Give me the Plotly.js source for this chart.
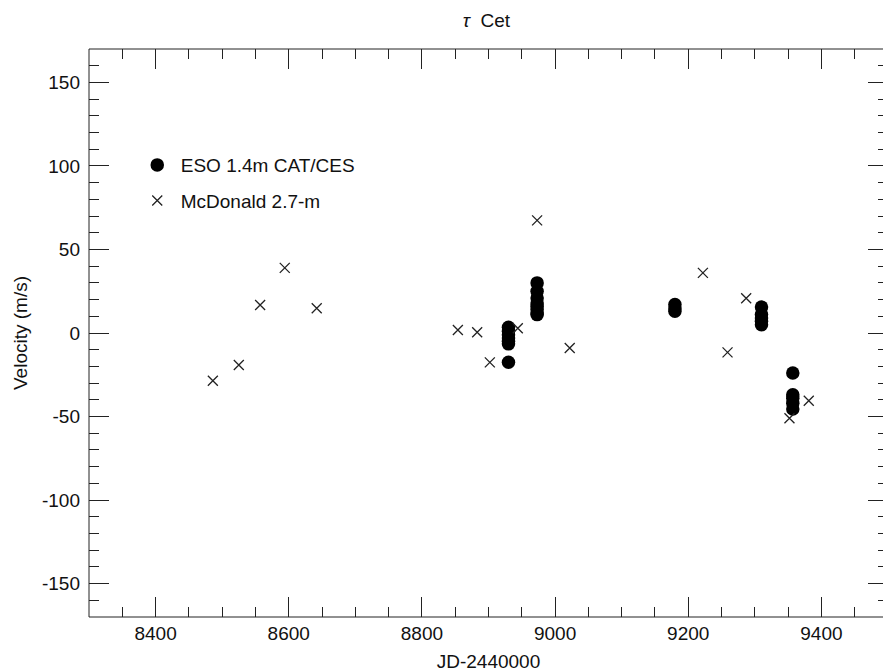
<!DOCTYPE html>
<html>
<head>
<meta charset="utf-8">
<script src="https://cdn.plot.ly/plotly-3.0.1.min.js"></script>
<style>
html,body{margin:0;padding:0;overflow:hidden;background:#fff;}
#chart{width:900px;height:672px;}
</style>
</head>
<body>
<div id="chart"></div>
<script>
// ESO 1.4m CAT/CES (filled circles)
var esoJD = [8930, 8930, 8930, 8930, 8930, 8930, 8930,
             8973, 8973, 8973, 8973, 8973, 8973, 8973, 8973,
             9180, 9180, 9180,
             9310, 9310, 9310, 9310, 9310,
             9357, 9357, 9357, 9357, 9357];
var esoVel = [3.5, 1, -1, -3, -5, -6.5, -17.5,
              30, 25, 21, 18, 16, 14, 12, 11,
              17, 15, 13,
              15.5, 11, 9, 7, 5,
              -24, -37, -39, -42, -45.5];
// McDonald 2.7-m (crosses)
var mcdJD = [8486, 8525, 8557, 8594, 8642, 8854, 8883, 8902, 8944, 8973,
             9022, 9222, 9259, 9287, 9352, 9381];
var mcdVel = [-28.6, -19.2, 16.8, 39, 14.8, 1.8, 0.4, -17.6, 2.8, 67.4,
              -9, 36, -11.6, 20.8, -51, -40.6];

var xTickVals = [8400, 8600, 8800, 9000, 9200, 9400];
var yTickVals = [-150, -100, -50, 0, 50, 100, 150];

var FONT = 'Liberation Sans, Arial, Helvetica, sans-serif';
var INK = '#222';

var traces = [
  {
    type: 'scatter', mode: 'markers', name: 'ESO 1.4m CAT/CES',
    x: esoJD, y: esoVel, legend: 'legend',
    marker: {symbol: 'circle', size: 13.5, color: '#000', line: {width: 0}}
  },
  {
    type: 'scatter', mode: 'markers', name: 'McDonald 2.7-m',
    x: mcdJD, y: mcdVel, legend: 'legend2',
    marker: {symbol: 'x-thin-open', size: 10, color: INK, line: {width: 1.3, color: INK}}
  }
];

var axisCommon = {
  showgrid: false, zeroline: false,
  showline: false,
  mirror: 'ticks', ticks: 'inside', ticklen: 20, tickwidth: 1, tickcolor: INK,
  tickfont: {family: FONT, size: 19, color: '#111'}
};

var frameLine = {color: INK, width: 1};

var layout = {
  width: 900, height: 672,
  margin: {l: 88.5, r: 12.4, t: 49, b: 55.3},
  paper_bgcolor: '#fff', plot_bgcolor: '#fff',
  title: {text: '<i>\u03c4</i>  Cet', font: {family: FONT, size: 19, color: '#111'},
          x: 0.5405, xanchor: 'center', y: 0.970, yanchor: 'middle'},
  xaxis: Object.assign({}, axisCommon, {
    range: [8300, 9500], tickmode: 'array', tickvals: xTickVals,
    ticktext: xTickVals.map(String), ticklabelstandoff: 3,
    minor: {dtick: 50, tick0: 8300, ticks: 'inside', ticklen: 10, tickwidth: 1, tickcolor: INK},
    title: {text: 'JD-2440000', font: {family: FONT, size: 19, color: '#111'}, standoff: 13}
  }),
  yaxis: Object.assign({}, axisCommon, {
    range: [-170, 170], tickmode: 'array', tickvals: yTickVals,
    ticktext: yTickVals.map(String), ticklabelstandoff: 8,
    minor: {dtick: 10, tick0: -170, ticks: 'inside', ticklen: 10, tickwidth: 1, tickcolor: INK},
    title: {text: 'Velocity (m/s)', font: {family: FONT, size: 19, color: '#111'}, standoff: 9}
  }),
  shapes: [
    {type: 'line', xref: 'paper', yref: 'paper', x0: 0, x1: 0, y0: 0, y1: 1, line: frameLine},
    {type: 'line', xref: 'paper', yref: 'paper', x0: 0, x1: 1, y0: 0, y1: 0, line: frameLine},
    {type: 'line', xref: 'paper', yref: 'paper', x0: 0, x1: 1, y0: 1, y1: 1, line: frameLine}
  ],
  showlegend: true,
  legend: {x: 0.056, xanchor: 'left', y: 0.7957, yanchor: 'middle',
           bgcolor: 'rgba(0,0,0,0)', borderwidth: 0, itemwidth: 37,
           font: {family: FONT, size: 19, color: '#111'}},
  legend2: {x: 0.056, xanchor: 'left', y: 0.733, yanchor: 'middle',
           bgcolor: 'rgba(0,0,0,0)', borderwidth: 0, itemwidth: 37,
           font: {family: FONT, size: 19, color: '#111'}}
};

Plotly.newPlot('chart', traces, layout, {displayModeBar: false, staticPlot: true});
</script>
</body>
</html>
